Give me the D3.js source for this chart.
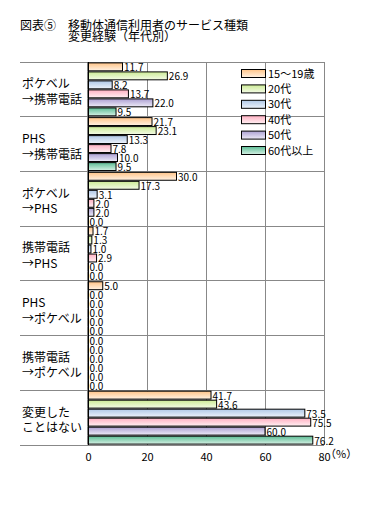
<!DOCTYPE html>
<html><head><meta charset="utf-8">
<script src="https://cdn.jsdelivr.net/npm/d3@7"></script>
<style>
html,body{margin:0;padding:0;background:#fff;}
svg{display:block;}
text{font-family:"Noto Sans CJK JP","Noto Sans",sans-serif;}
</style></head>
<body>
<script>
const titleLines = ["図表⑤", "移動体通信利用者のサービス種類", "変更経験（年代別）"];
const categories = ["ポケベル\n→携帯電話", "PHS\n→携帯電話", "ポケベル\n→PHS", "携帯電話\n→PHS", "PHS\n→ポケベル", "携帯電話\n→ポケベル", "変更した\nことはない"];
const seriesNames = ["15〜19歳", "20代", "30代", "40代", "50代", "60代以上"];
const s15 = [11.7, 21.7, 30.0, 1.7, 5.0, 0.0, 41.7];
const s20 = [26.9, 23.1, 17.3, 1.3, 0.0, 0.0, 43.6];
const s30 = [8.2, 13.3, 3.1, 1.0, 0.0, 0.0, 73.5];
const s40 = [13.7, 7.8, 2.0, 2.9, 0.0, 0.0, 75.5];
const s50 = [22.0, 10.0, 2.0, 0.0, 0.0, 0.0, 60.0];
const s60 = [9.5, 9.5, 0.0, 0.0, 0.0, 0.0, 76.2];
const seriesValues = [s15, s20, s30, s40, s50, s60];
const ticks = [0, 20, 40, 60, 80];
const colorsTop = ["#ffc488", "#cceb96", "#b0c8e6", "#ffb0c2", "#aca0d2", "#5cbc94"];
const colorsBottom = ["#fff2e4", "#f4fbe6", "#eef3fb", "#fff0f3", "#eeebf8", "#d6f1e5"];

const W = 378, H = 517;
const svg = d3.select("body").append("svg").attr("width", W).attr("height", H);
const defs = svg.append("defs");
seriesNames.forEach((n, i) => {
  const g = defs.append("linearGradient").attr("id", "g" + i).attr("x1", 0).attr("y1", 0).attr("x2", 0).attr("y2", 1);
  g.append("stop").attr("offset", "0%").attr("stop-color", colorsTop[i]);
  g.append("stop").attr("offset", "100%").attr("stop-color", colorsBottom[i]);
});

const pLeft = 88, pRight = 324, pTop = 62, pBottom = 445, labelLeft = 20;
const x = d3.scaleLinear().domain([0, 80]).range([pLeft, pRight]);
const y0 = d3.scaleBand().domain(categories).range([pTop, pBottom]).padding(0);
const y1 = d3.scaleBand().domain(seriesNames).range([0, y0.bandwidth()]).paddingInner(0.12).paddingOuter(0.1);

// title
const t = svg.append("g").attr("font-size", 12).attr("fill", "#000");
t.append("text").attr("x", 20).attr("y", 29.5).text(titleLines[0]);
t.append("text").attr("x", 68).attr("y", 29.5).text(titleLines[1]);
t.append("text").attr("x", 68).attr("y", 40.5).text(titleLines[2]);

// gridlines
svg.append("g").selectAll("line").data(ticks.slice(1)).join("line")
  .attr("x1", d => x(d)).attr("x2", d => x(d)).attr("y1", pTop).attr("y2", pBottom)
  .attr("stroke", "#888").attr("stroke-width", 1).attr("shape-rendering", "crispEdges");
// group separators
const seps = categories.map(c => y0(c)).concat([pBottom]);
svg.append("g").selectAll("line").data(seps).join("line")
  .attr("x1", labelLeft).attr("x2", pRight).attr("y1", d => d).attr("y2", d => d)
  .attr("stroke", "#888").attr("stroke-width", 1).attr("shape-rendering", "crispEdges");

// bars
const groups = svg.append("g").selectAll("g").data(categories).join("g")
  .attr("transform", c => `translate(0,${y0(c)})`);
groups.each(function(c, ci) {
  const g = d3.select(this);
  seriesNames.forEach((s, si) => {
    const v = seriesValues[si][ci];
    const yy = y1(s);
    const h = y1.bandwidth();
    g.append("rect").attr("x", x(0)).attr("y", yy).attr("width", Math.max(x(v) - x(0), 0.5)).attr("height", h)
      .attr("fill", `url(#g${si})`).attr("stroke", "#000").attr("stroke-width", 1);
    g.append("text").attr("x", x(v) + 1.5).attr("y", yy + h + 0.5)
      .attr("font-family", "'Liberation Sans',Arial,sans-serif").attr("font-size", 10).attr("fill", "#000")
      .text(v.toFixed(1));
  });
  const lines = c.split("\n");
  const cy = y0.bandwidth() / 2;
  g.append("text").attr("x", 22).attr("y", cy - 1).attr("font-size", 12).text(lines[0]);
  g.append("text").attr("x", 22).attr("y", cy + 14.5).attr("font-size", 12).text(lines[1]);
});

// axis line at 0
svg.append("line").attr("x1", x(0)).attr("x2", x(0)).attr("y1", pTop).attr("y2", pBottom)
  .attr("stroke", "#000").attr("stroke-width", 1).attr("shape-rendering", "crispEdges");

// x tick labels
const axisG = svg.append("g").attr("transform", `translate(0,${pBottom})`)
  .call(d3.axisBottom(x).tickValues(ticks).tickSize(0).tickPadding(8).tickFormat(d3.format("d")));
axisG.select(".domain").remove();
axisG.selectAll("text").attr("font-family", "'Liberation Sans',Arial,sans-serif").attr("font-size", 11).attr("fill", "#000");
svg.append("text").attr("x", x(80) + 1).attr("y", 458).attr("font-size", 11).text("（%）");

// legend
const lg = svg.append("g");
seriesNames.forEach((s, i) => {
  const ly = 69 + i * 15.4;
  lg.append("rect").attr("x", 241.5).attr("y", ly + 0.5).attr("width", 24).attr("height", 8)
    .attr("fill", `url(#g${i})`).attr("stroke", "#000").attr("stroke-width", 1);
  lg.append("text").attr("x", 268).attr("y", ly + 8.5).attr("font-size", 11).text(s);
});
</script>
</body></html>
